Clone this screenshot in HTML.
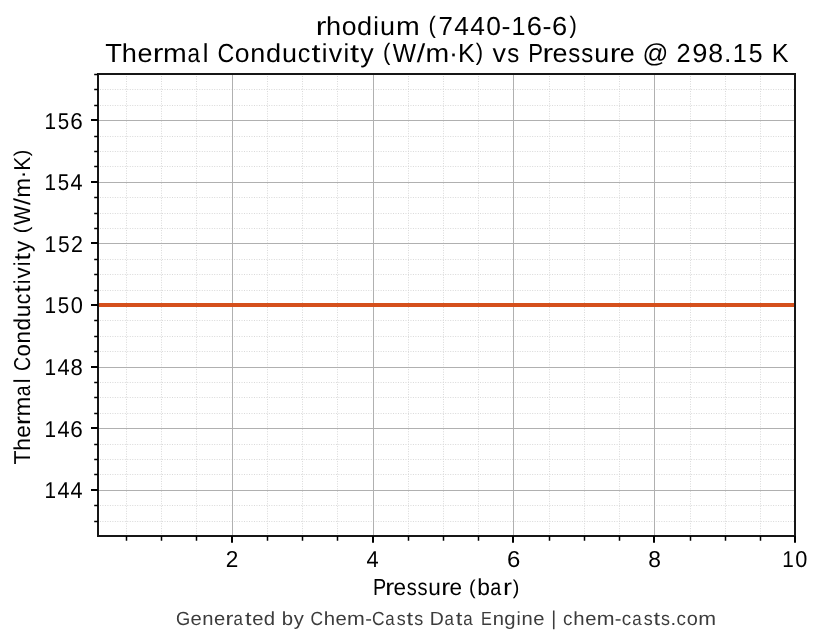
<!DOCTYPE html>
<html><head><meta charset="utf-8"><style>
html,body{margin:0;padding:0;background:#fff;width:823px;height:644px;overflow:hidden}
svg{display:block;will-change:transform}
text{font-family:"Liberation Sans", sans-serif;text-rendering:geometricPrecision}
</style></head><body>
<svg width="823" height="644" viewBox="0 0 823 644">
<rect width="823" height="644" fill="#ffffff"/>
<path d="M126.5 536.0V74.0M161.5 536.0V74.0M196.5 536.0V74.0M267.5 536.0V74.0M302.5 536.0V74.0M337.5 536.0V74.0M408.5 536.0V74.0M443.5 536.0V74.0M478.5 536.0V74.0M549.5 536.0V74.0M584.5 536.0V74.0M619.5 536.0V74.0M690.5 536.0V74.0M725.5 536.0V74.0M760.5 536.0V74.0" stroke="#d9d9d9" stroke-width="1" stroke-dasharray="1 1.484" stroke-dashoffset="0.6" fill="none"/>
<path d="M98.0 521.5H795.0M98.0 505.5H795.0M98.0 474.5H795.0M98.0 459.5H795.0M98.0 444.5H795.0M98.0 413.5H795.0M98.0 397.5H795.0M98.0 382.5H795.0M98.0 351.5H795.0M98.0 336.5H795.0M98.0 320.5H795.0M98.0 290.5H795.0M98.0 274.5H795.0M98.0 259.5H795.0M98.0 228.5H795.0M98.0 213.5H795.0M98.0 197.5H795.0M98.0 166.5H795.0M98.0 151.5H795.0M98.0 136.5H795.0M98.0 105.5H795.0M98.0 89.5H795.0M98.0 74.5H795.0" stroke="#d9d9d9" stroke-width="1" stroke-dasharray="1 1.484" stroke-dashoffset="0.534" fill="none"/>
<path d="M232.5 74.0V536.0M373.5 74.0V536.0M513.5 74.0V536.0M654.5 74.0V536.0M98.0 490.5H795.0M98.0 428.5H795.0M98.0 367.5H795.0M98.0 305.5H795.0M98.0 243.5H795.0M98.0 182.5H795.0M98.0 120.5H795.0" stroke="#b0b0b0" stroke-width="1" fill="none"/>
<path d="M98.0 305H795.0" stroke="#d5501c" stroke-width="4" fill="none"/>
<rect x="98.0" y="74.0" width="697.0" height="462.0" fill="none" stroke="#161616" stroke-width="2"/>
<path d="M232 536.0V542.7M373 536.0V542.7M513 536.0V542.7M654 536.0V542.7M795 536.0V542.7M98.0 490H91.0M98.0 428H91.0M98.0 367H91.0M98.0 305H91.0M98.0 243H91.0M98.0 182H91.0M98.0 120H91.0" stroke="#000" stroke-width="2" fill="none"/>
<path d="M126.5 536.0V540.65M161.5 536.0V540.65M196.5 536.0V540.65M267.5 536.0V540.65M302.5 536.0V540.65M337.5 536.0V540.65M408.5 536.0V540.65M443.5 536.0V540.65M478.5 536.0V540.65M549.5 536.0V540.65M584.5 536.0V540.65M619.5 536.0V540.65M690.5 536.0V540.65M725.5 536.0V540.65M760.5 536.0V540.65M98.0 521.5H94.2M98.0 505.5H94.2M98.0 474.5H94.2M98.0 459.5H94.2M98.0 444.5H94.2M98.0 413.5H94.2M98.0 397.5H94.2M98.0 382.5H94.2M98.0 351.5H94.2M98.0 336.5H94.2M98.0 320.5H94.2M98.0 290.5H94.2M98.0 274.5H94.2M98.0 259.5H94.2M98.0 228.5H94.2M98.0 213.5H94.2M98.0 197.5H94.2M98.0 166.5H94.2M98.0 151.5H94.2M98.0 136.5H94.2M98.0 105.5H94.2M98.0 89.5H94.2M98.0 74.5H94.2" stroke="#000" stroke-width="1.5" fill="none"/>
<text x="315.87" y="34.80" font-size="26" fill="#000" textLength="10.676" lengthAdjust="spacingAndGlyphs">r</text>
<text x="326.00" y="34.80" font-size="26" fill="#000" textLength="15.107" lengthAdjust="spacingAndGlyphs">h</text>
<text x="341.76" y="34.80" font-size="26" fill="#000" textLength="14.793" lengthAdjust="spacingAndGlyphs">o</text>
<text x="357.00" y="34.80" font-size="26" fill="#000" textLength="15.124" lengthAdjust="spacingAndGlyphs">d</text>
<text x="373.30" y="34.80" font-size="26" fill="#000" textLength="5.682" lengthAdjust="spacingAndGlyphs">i</text>
<text x="380.03" y="34.80" font-size="26" fill="#000" textLength="15.003" lengthAdjust="spacingAndGlyphs">u</text>
<text x="395.92" y="34.80" font-size="26" fill="#000" textLength="23.748" lengthAdjust="spacingAndGlyphs">m</text>
<text transform="matrix(1 0 0 0.9192 0 1.160)" x="428.60" y="34.80" font-size="26" fill="#000" textLength="7.359" lengthAdjust="spacingAndGlyphs">(</text>
<text x="438.43" y="34.80" font-size="26" fill="#000" textLength="14.349" lengthAdjust="spacingAndGlyphs">7</text>
<text x="454.21" y="34.80" font-size="26" fill="#000" textLength="14.671" lengthAdjust="spacingAndGlyphs">4</text>
<text x="470.22" y="34.80" font-size="26" fill="#000" textLength="14.671" lengthAdjust="spacingAndGlyphs">4</text>
<text x="486.24" y="34.80" font-size="26" fill="#000" textLength="14.669" lengthAdjust="spacingAndGlyphs">0</text>
<text x="501.53" y="34.80" font-size="26" fill="#000" textLength="8.982" lengthAdjust="spacingAndGlyphs">-</text>
<text x="511.47" y="34.80" font-size="26" fill="#000" textLength="14.010" lengthAdjust="spacingAndGlyphs">1</text>
<text x="526.89" y="34.80" font-size="26" fill="#000" textLength="15.182" lengthAdjust="spacingAndGlyphs">6</text>
<text x="542.57" y="34.80" font-size="26" fill="#000" textLength="8.982" lengthAdjust="spacingAndGlyphs">-</text>
<text x="552.04" y="34.80" font-size="26" fill="#000" textLength="15.182" lengthAdjust="spacingAndGlyphs">6</text>
<text transform="matrix(1 0 0 0.9192 0 1.160)" x="569.44" y="34.80" font-size="26" fill="#000" textLength="7.359" lengthAdjust="spacingAndGlyphs">)</text>
<text x="105.39" y="61.90" font-size="26" fill="#000" textLength="16.660" lengthAdjust="spacingAndGlyphs">T</text>
<text x="121.84" y="61.90" font-size="26" fill="#000" textLength="15.098" lengthAdjust="spacingAndGlyphs">h</text>
<text x="137.56" y="61.90" font-size="26" fill="#000" textLength="15.021" lengthAdjust="spacingAndGlyphs">e</text>
<text x="152.85" y="61.90" font-size="26" fill="#000" textLength="10.669" lengthAdjust="spacingAndGlyphs">r</text>
<text x="162.97" y="61.90" font-size="26" fill="#000" textLength="23.733" lengthAdjust="spacingAndGlyphs">m</text>
<text x="187.51" y="61.90" font-size="26" fill="#000" textLength="12.506" lengthAdjust="spacingAndGlyphs">a</text>
<text x="202.85" y="61.90" font-size="26" fill="#000" textLength="5.679" lengthAdjust="spacingAndGlyphs">l</text>
<text x="217.45" y="61.90" font-size="26" fill="#000" textLength="16.764" lengthAdjust="spacingAndGlyphs">C</text>
<text x="234.87" y="61.90" font-size="26" fill="#000" textLength="14.784" lengthAdjust="spacingAndGlyphs">o</text>
<text x="250.34" y="61.90" font-size="26" fill="#000" textLength="14.994" lengthAdjust="spacingAndGlyphs">n</text>
<text x="265.97" y="61.90" font-size="26" fill="#000" textLength="15.115" lengthAdjust="spacingAndGlyphs">d</text>
<text x="281.99" y="61.90" font-size="26" fill="#000" textLength="14.994" lengthAdjust="spacingAndGlyphs">u</text>
<text x="297.81" y="61.90" font-size="26" fill="#000" textLength="12.545" lengthAdjust="spacingAndGlyphs">c</text>
<text x="311.54" y="61.90" font-size="26" fill="#000" textLength="9.030" lengthAdjust="spacingAndGlyphs">t</text>
<text x="321.64" y="61.90" font-size="26" fill="#000" textLength="5.679" lengthAdjust="spacingAndGlyphs">i</text>
<text x="328.65" y="61.90" font-size="26" fill="#000" textLength="13.493" lengthAdjust="spacingAndGlyphs">v</text>
<text x="343.40" y="61.90" font-size="26" fill="#000" textLength="5.679" lengthAdjust="spacingAndGlyphs">i</text>
<text x="350.05" y="61.90" font-size="26" fill="#000" textLength="9.030" lengthAdjust="spacingAndGlyphs">t</text>
<text x="360.19" y="61.90" font-size="26" fill="#000" textLength="13.427" lengthAdjust="spacingAndGlyphs">y</text>
<text transform="matrix(1 0 0 0.9192 0 3.349)" x="382.91" y="61.90" font-size="26" fill="#000" textLength="7.359" lengthAdjust="spacingAndGlyphs">(</text>
<text x="392.74" y="61.90" font-size="26" fill="#000" textLength="23.269" lengthAdjust="spacingAndGlyphs">W</text>
<text x="416.77" y="61.90" font-size="26" fill="#000" textLength="8.425" lengthAdjust="spacingAndGlyphs">/</text>
<text x="425.53" y="61.90" font-size="26" fill="#000" textLength="23.733" lengthAdjust="spacingAndGlyphs">m</text>
<text x="448.99" y="61.90" font-size="26" fill="#000" textLength="9.010" lengthAdjust="spacingAndGlyphs">·</text>
<text x="457.92" y="61.90" font-size="26" fill="#000" textLength="16.821" lengthAdjust="spacingAndGlyphs">K</text>
<text transform="matrix(1 0 0 0.9192 0 3.349)" x="475.78" y="61.90" font-size="26" fill="#000" textLength="7.359" lengthAdjust="spacingAndGlyphs">)</text>
<text x="492.44" y="61.90" font-size="26" fill="#000" textLength="13.493" lengthAdjust="spacingAndGlyphs">v</text>
<text x="507.23" y="61.90" font-size="26" fill="#000" textLength="11.985" lengthAdjust="spacingAndGlyphs">s</text>
<text x="528.31" y="61.90" font-size="26" fill="#000" textLength="14.751" lengthAdjust="spacingAndGlyphs">P</text>
<text x="542.44" y="61.90" font-size="26" fill="#000" textLength="10.669" lengthAdjust="spacingAndGlyphs">r</text>
<text x="552.41" y="61.90" font-size="26" fill="#000" textLength="15.021" lengthAdjust="spacingAndGlyphs">e</text>
<text x="568.24" y="61.90" font-size="26" fill="#000" textLength="11.985" lengthAdjust="spacingAndGlyphs">s</text>
<text x="581.37" y="61.90" font-size="26" fill="#000" textLength="11.985" lengthAdjust="spacingAndGlyphs">s</text>
<text x="594.18" y="61.90" font-size="26" fill="#000" textLength="14.994" lengthAdjust="spacingAndGlyphs">u</text>
<text x="609.83" y="61.90" font-size="26" fill="#000" textLength="10.669" lengthAdjust="spacingAndGlyphs">r</text>
<text x="619.80" y="61.90" font-size="26" fill="#000" textLength="15.021" lengthAdjust="spacingAndGlyphs">e</text>
<text x="642.60" y="61.90" font-size="26" fill="#000" textLength="25.807" lengthAdjust="spacingAndGlyphs">@</text>
<text x="676.51" y="61.90" font-size="26" fill="#000" textLength="14.131" lengthAdjust="spacingAndGlyphs">2</text>
<text x="692.26" y="61.90" font-size="26" fill="#000" textLength="15.142" lengthAdjust="spacingAndGlyphs">9</text>
<text x="708.38" y="61.90" font-size="26" fill="#000" textLength="14.819" lengthAdjust="spacingAndGlyphs">8</text>
<text x="724.04" y="61.90" font-size="26" fill="#000" textLength="7.517" lengthAdjust="spacingAndGlyphs">.</text>
<text x="732.67" y="61.90" font-size="26" fill="#000" textLength="14.002" lengthAdjust="spacingAndGlyphs">1</text>
<text x="748.65" y="61.90" font-size="26" fill="#000" textLength="13.835" lengthAdjust="spacingAndGlyphs">5</text>
<text x="771.86" y="61.90" font-size="26" fill="#000" textLength="16.821" lengthAdjust="spacingAndGlyphs">K</text>
<text x="373.06" y="595.00" font-size="23.25" fill="#000" textLength="13.181" lengthAdjust="spacingAndGlyphs">P</text>
<text x="385.27" y="595.00" font-size="23.25" fill="#000" textLength="8.950" lengthAdjust="spacingAndGlyphs">r</text>
<text x="393.53" y="595.00" font-size="23.25" fill="#000" textLength="12.601" lengthAdjust="spacingAndGlyphs">e</text>
<text x="406.75" y="595.00" font-size="23.25" fill="#000" textLength="10.054" lengthAdjust="spacingAndGlyphs">s</text>
<text x="417.57" y="595.00" font-size="23.25" fill="#000" textLength="10.054" lengthAdjust="spacingAndGlyphs">s</text>
<text x="428.13" y="595.00" font-size="23.25" fill="#000" textLength="12.578" lengthAdjust="spacingAndGlyphs">u</text>
<text x="441.15" y="595.00" font-size="23.25" fill="#000" textLength="8.950" lengthAdjust="spacingAndGlyphs">r</text>
<text x="449.41" y="595.00" font-size="23.25" fill="#000" textLength="12.601" lengthAdjust="spacingAndGlyphs">e</text>
<text transform="matrix(1 0 0 0.8566 0 83.950)" x="469.03" y="595.00" font-size="23.25" fill="#000" textLength="6.581" lengthAdjust="spacingAndGlyphs">(</text>
<text x="477.21" y="595.00" font-size="23.25" fill="#000" textLength="12.693" lengthAdjust="spacingAndGlyphs">b</text>
<text x="490.19" y="595.00" font-size="23.25" fill="#000" textLength="10.991" lengthAdjust="spacingAndGlyphs">a</text>
<text x="502.95" y="595.00" font-size="23.25" fill="#000" textLength="8.950" lengthAdjust="spacingAndGlyphs">r</text>
<text transform="matrix(1 0 0 0.8566 0 83.950)" x="512.81" y="595.00" font-size="23.25" fill="#000" textLength="6.581" lengthAdjust="spacingAndGlyphs">)</text>
<text x="175.98" y="624.60" font-size="19.05" fill="#3c3c3c" textLength="14.233" lengthAdjust="spacingAndGlyphs">G</text>
<text x="190.53" y="624.60" font-size="19.05" fill="#3c3c3c" textLength="11.270" lengthAdjust="spacingAndGlyphs">e</text>
<text x="202.22" y="624.60" font-size="19.05" fill="#3c3c3c" textLength="11.250" lengthAdjust="spacingAndGlyphs">n</text>
<text x="213.92" y="624.60" font-size="19.05" fill="#3c3c3c" textLength="11.270" lengthAdjust="spacingAndGlyphs">e</text>
<text x="225.40" y="624.60" font-size="19.05" fill="#3c3c3c" textLength="7.930" lengthAdjust="spacingAndGlyphs">r</text>
<text x="233.54" y="624.60" font-size="19.05" fill="#3c3c3c" textLength="9.383" lengthAdjust="spacingAndGlyphs">a</text>
<text x="244.94" y="624.60" font-size="19.05" fill="#3c3c3c" textLength="6.616" lengthAdjust="spacingAndGlyphs">t</text>
<text x="252.19" y="624.60" font-size="19.05" fill="#3c3c3c" textLength="11.270" lengthAdjust="spacingAndGlyphs">e</text>
<text x="263.70" y="624.60" font-size="19.05" fill="#3c3c3c" textLength="11.341" lengthAdjust="spacingAndGlyphs">d</text>
<text x="281.80" y="624.60" font-size="19.05" fill="#3c3c3c" textLength="11.352" lengthAdjust="spacingAndGlyphs">b</text>
<text x="293.80" y="624.60" font-size="19.05" fill="#3c3c3c" textLength="10.074" lengthAdjust="spacingAndGlyphs">y</text>
<text x="310.60" y="624.60" font-size="19.05" fill="#3c3c3c" textLength="12.577" lengthAdjust="spacingAndGlyphs">C</text>
<text x="323.73" y="624.60" font-size="19.05" fill="#3c3c3c" textLength="11.328" lengthAdjust="spacingAndGlyphs">h</text>
<text x="335.49" y="624.60" font-size="19.05" fill="#3c3c3c" textLength="11.270" lengthAdjust="spacingAndGlyphs">e</text>
<text x="347.11" y="624.60" font-size="19.05" fill="#3c3c3c" textLength="17.807" lengthAdjust="spacingAndGlyphs">m</text>
<text x="365.23" y="624.60" font-size="19.05" fill="#3c3c3c" textLength="6.735" lengthAdjust="spacingAndGlyphs">-</text>
<text x="372.01" y="624.60" font-size="19.05" fill="#3c3c3c" textLength="12.577" lengthAdjust="spacingAndGlyphs">C</text>
<text x="385.26" y="624.60" font-size="19.05" fill="#3c3c3c" textLength="9.383" lengthAdjust="spacingAndGlyphs">a</text>
<text x="396.87" y="624.60" font-size="19.05" fill="#3c3c3c" textLength="8.992" lengthAdjust="spacingAndGlyphs">s</text>
<text x="406.54" y="624.60" font-size="19.05" fill="#3c3c3c" textLength="6.616" lengthAdjust="spacingAndGlyphs">t</text>
<text x="414.13" y="624.60" font-size="19.05" fill="#3c3c3c" textLength="8.992" lengthAdjust="spacingAndGlyphs">s</text>
<text x="429.75" y="624.60" font-size="19.05" fill="#3c3c3c" textLength="14.018" lengthAdjust="spacingAndGlyphs">D</text>
<text x="444.42" y="624.60" font-size="19.05" fill="#3c3c3c" textLength="9.383" lengthAdjust="spacingAndGlyphs">a</text>
<text x="455.82" y="624.60" font-size="19.05" fill="#3c3c3c" textLength="6.616" lengthAdjust="spacingAndGlyphs">t</text>
<text x="463.31" y="624.60" font-size="19.05" fill="#3c3c3c" textLength="9.383" lengthAdjust="spacingAndGlyphs">a</text>
<text x="480.92" y="624.60" font-size="19.05" fill="#3c3c3c" textLength="10.845" lengthAdjust="spacingAndGlyphs">E</text>
<text x="492.65" y="624.60" font-size="19.05" fill="#3c3c3c" textLength="11.250" lengthAdjust="spacingAndGlyphs">n</text>
<text x="504.35" y="624.60" font-size="19.05" fill="#3c3c3c" textLength="11.341" lengthAdjust="spacingAndGlyphs">g</text>
<text x="516.54" y="624.60" font-size="19.05" fill="#3c3c3c" textLength="4.261" lengthAdjust="spacingAndGlyphs">i</text>
<text x="521.54" y="624.60" font-size="19.05" fill="#3c3c3c" textLength="11.250" lengthAdjust="spacingAndGlyphs">n</text>
<text x="533.24" y="624.60" font-size="19.05" fill="#3c3c3c" textLength="11.270" lengthAdjust="spacingAndGlyphs">e</text>
<text transform="matrix(1 0 0 1.0510 0 -31.653)" x="551.24" y="624.60" font-size="19.05" fill="#3c3c3c" textLength="4.991" lengthAdjust="spacingAndGlyphs">|</text>
<text x="563.07" y="624.60" font-size="19.05" fill="#3c3c3c" textLength="9.413" lengthAdjust="spacingAndGlyphs">c</text>
<text x="573.38" y="624.60" font-size="19.05" fill="#3c3c3c" textLength="11.328" lengthAdjust="spacingAndGlyphs">h</text>
<text x="585.15" y="624.60" font-size="19.05" fill="#3c3c3c" textLength="11.270" lengthAdjust="spacingAndGlyphs">e</text>
<text x="596.76" y="624.60" font-size="19.05" fill="#3c3c3c" textLength="17.807" lengthAdjust="spacingAndGlyphs">m</text>
<text x="614.88" y="624.60" font-size="19.05" fill="#3c3c3c" textLength="6.735" lengthAdjust="spacingAndGlyphs">-</text>
<text x="621.73" y="624.60" font-size="19.05" fill="#3c3c3c" textLength="9.413" lengthAdjust="spacingAndGlyphs">c</text>
<text x="632.16" y="624.60" font-size="19.05" fill="#3c3c3c" textLength="9.383" lengthAdjust="spacingAndGlyphs">a</text>
<text x="643.78" y="624.60" font-size="19.05" fill="#3c3c3c" textLength="8.992" lengthAdjust="spacingAndGlyphs">s</text>
<text x="653.45" y="624.60" font-size="19.05" fill="#3c3c3c" textLength="6.616" lengthAdjust="spacingAndGlyphs">t</text>
<text x="661.04" y="624.60" font-size="19.05" fill="#3c3c3c" textLength="8.992" lengthAdjust="spacingAndGlyphs">s</text>
<text x="670.55" y="624.60" font-size="19.05" fill="#3c3c3c" textLength="5.640" lengthAdjust="spacingAndGlyphs">.</text>
<text x="676.52" y="624.60" font-size="19.05" fill="#3c3c3c" textLength="9.413" lengthAdjust="spacingAndGlyphs">c</text>
<text x="686.73" y="624.60" font-size="19.05" fill="#3c3c3c" textLength="11.092" lengthAdjust="spacingAndGlyphs">o</text>
<text x="698.20" y="624.60" font-size="19.05" fill="#3c3c3c" textLength="17.807" lengthAdjust="spacingAndGlyphs">m</text>
<text transform="translate(29.80 464.41) rotate(-90)" font-size="23" fill="#000" textLength="13.926" lengthAdjust="spacingAndGlyphs">T</text>
<text transform="translate(29.80 450.72) rotate(-90)" font-size="23" fill="#000" textLength="12.621" lengthAdjust="spacingAndGlyphs">h</text>
<text transform="translate(29.80 437.68) rotate(-90)" font-size="23" fill="#000" textLength="12.557" lengthAdjust="spacingAndGlyphs">e</text>
<text transform="translate(29.80 424.96) rotate(-90)" font-size="23" fill="#000" textLength="8.919" lengthAdjust="spacingAndGlyphs">r</text>
<text transform="translate(29.80 416.49) rotate(-90)" font-size="23" fill="#000" textLength="19.839" lengthAdjust="spacingAndGlyphs">m</text>
<text transform="translate(29.80 396.26) rotate(-90)" font-size="23" fill="#000" textLength="10.873" lengthAdjust="spacingAndGlyphs">a</text>
<text transform="translate(29.80 383.16) rotate(-90)" font-size="23" fill="#000" textLength="4.747" lengthAdjust="spacingAndGlyphs">l</text>
<text transform="translate(29.80 371.02) rotate(-90)" font-size="23" fill="#000" textLength="14.118" lengthAdjust="spacingAndGlyphs">C</text>
<text transform="translate(29.80 356.38) rotate(-90)" font-size="23" fill="#000" textLength="12.359" lengthAdjust="spacingAndGlyphs">o</text>
<text transform="translate(29.80 343.53) rotate(-90)" font-size="23" fill="#000" textLength="12.534" lengthAdjust="spacingAndGlyphs">n</text>
<text transform="translate(29.80 330.57) rotate(-90)" font-size="23" fill="#000" textLength="12.635" lengthAdjust="spacingAndGlyphs">d</text>
<text transform="translate(29.80 317.28) rotate(-90)" font-size="23" fill="#000" textLength="12.534" lengthAdjust="spacingAndGlyphs">u</text>
<text transform="translate(29.80 304.17) rotate(-90)" font-size="23" fill="#000" textLength="10.487" lengthAdjust="spacingAndGlyphs">c</text>
<text transform="translate(29.80 292.88) rotate(-90)" font-size="23" fill="#000" textLength="7.762" lengthAdjust="spacingAndGlyphs">t</text>
<text transform="translate(29.80 284.32) rotate(-90)" font-size="23" fill="#000" textLength="4.747" lengthAdjust="spacingAndGlyphs">i</text>
<text transform="translate(29.80 278.42) rotate(-90)" font-size="23" fill="#000" textLength="11.280" lengthAdjust="spacingAndGlyphs">v</text>
<text transform="translate(29.80 266.14) rotate(-90)" font-size="23" fill="#000" textLength="4.747" lengthAdjust="spacingAndGlyphs">i</text>
<text transform="translate(29.80 260.64) rotate(-90)" font-size="23" fill="#000" textLength="7.762" lengthAdjust="spacingAndGlyphs">t</text>
<text transform="translate(29.80 252.06) rotate(-90)" font-size="23" fill="#000" textLength="11.224" lengthAdjust="spacingAndGlyphs">y</text>
<text transform="translate(29.80 233.36) rotate(-90) translate(0 -1.377) scale(1 0.8659)" font-size="23" fill="#000" textLength="6.510" lengthAdjust="spacingAndGlyphs">(</text>
<text transform="translate(29.80 225.06) rotate(-90)" font-size="23" fill="#000" textLength="19.452" lengthAdjust="spacingAndGlyphs">W</text>
<text transform="translate(29.80 205.09) rotate(-90)" font-size="23" fill="#000" textLength="7.043" lengthAdjust="spacingAndGlyphs">/</text>
<text transform="translate(29.80 197.75) rotate(-90)" font-size="23" fill="#000" textLength="19.839" lengthAdjust="spacingAndGlyphs">m</text>
<text transform="translate(29.80 178.20) rotate(-90)" font-size="23" fill="#000" textLength="7.532" lengthAdjust="spacingAndGlyphs">·</text>
<text transform="translate(29.80 170.78) rotate(-90)" font-size="23" fill="#000" textLength="14.061" lengthAdjust="spacingAndGlyphs">K</text>
<text transform="translate(29.80 156.25) rotate(-90) translate(0 -1.377) scale(1 0.8659)" font-size="23" fill="#000" textLength="6.510" lengthAdjust="spacingAndGlyphs">)</text>
<text x="44.52" y="128.80" font-size="23" fill="#000" textLength="11.551" lengthAdjust="spacingAndGlyphs">1</text>
<text x="57.72" y="128.80" font-size="23" fill="#000" textLength="11.414" lengthAdjust="spacingAndGlyphs">5</text>
<text x="70.37" y="128.80" font-size="23" fill="#000" textLength="12.517" lengthAdjust="spacingAndGlyphs">6</text>
<text x="44.52" y="189.70" font-size="23" fill="#000" textLength="11.506" lengthAdjust="spacingAndGlyphs">1</text>
<text x="57.68" y="189.70" font-size="23" fill="#000" textLength="11.369" lengthAdjust="spacingAndGlyphs">5</text>
<text x="70.49" y="189.70" font-size="23" fill="#000" textLength="12.048" lengthAdjust="spacingAndGlyphs">4</text>
<text x="44.48" y="251.90" font-size="23" fill="#000" textLength="11.803" lengthAdjust="spacingAndGlyphs">1</text>
<text x="57.98" y="251.90" font-size="23" fill="#000" textLength="11.663" lengthAdjust="spacingAndGlyphs">5</text>
<text x="71.07" y="251.90" font-size="23" fill="#000" textLength="11.912" lengthAdjust="spacingAndGlyphs">2</text>
<text x="44.51" y="312.80" font-size="23" fill="#000" textLength="11.574" lengthAdjust="spacingAndGlyphs">1</text>
<text x="57.75" y="312.80" font-size="23" fill="#000" textLength="11.436" lengthAdjust="spacingAndGlyphs">5</text>
<text x="70.63" y="312.80" font-size="23" fill="#000" textLength="12.118" lengthAdjust="spacingAndGlyphs">0</text>
<text x="44.51" y="374.80" font-size="23" fill="#000" textLength="11.587" lengthAdjust="spacingAndGlyphs">1</text>
<text x="57.50" y="374.80" font-size="23" fill="#000" textLength="12.133" lengthAdjust="spacingAndGlyphs">4</text>
<text x="70.60" y="374.80" font-size="23" fill="#000" textLength="12.263" lengthAdjust="spacingAndGlyphs">8</text>
<text x="44.52" y="436.90" font-size="23" fill="#000" textLength="11.551" lengthAdjust="spacingAndGlyphs">1</text>
<text x="57.46" y="436.90" font-size="23" fill="#000" textLength="12.096" lengthAdjust="spacingAndGlyphs">4</text>
<text x="70.37" y="436.90" font-size="23" fill="#000" textLength="12.517" lengthAdjust="spacingAndGlyphs">6</text>
<text x="44.52" y="497.80" font-size="23" fill="#000" textLength="11.506" lengthAdjust="spacingAndGlyphs">1</text>
<text x="57.42" y="497.80" font-size="23" fill="#000" textLength="12.048" lengthAdjust="spacingAndGlyphs">4</text>
<text x="70.49" y="497.80" font-size="23" fill="#000" textLength="12.048" lengthAdjust="spacingAndGlyphs">4</text>
<text x="225.86" y="566.80" font-size="23" fill="#000" textLength="12.574" lengthAdjust="spacingAndGlyphs">2</text>
<text x="366.50" y="566.80" font-size="23" fill="#000" textLength="12.141" lengthAdjust="spacingAndGlyphs">4</text>
<text x="506.93" y="566.80" font-size="23" fill="#000" textLength="13.318" lengthAdjust="spacingAndGlyphs">6</text>
<text x="648.31" y="566.80" font-size="23" fill="#000" textLength="12.682" lengthAdjust="spacingAndGlyphs">8</text>
<text x="782.22" y="566.80" font-size="23" fill="#000" textLength="11.546" lengthAdjust="spacingAndGlyphs">1</text>
<text x="795.16" y="566.80" font-size="23" fill="#000" textLength="12.089" lengthAdjust="spacingAndGlyphs">0</text>
</svg>
</body></html>
